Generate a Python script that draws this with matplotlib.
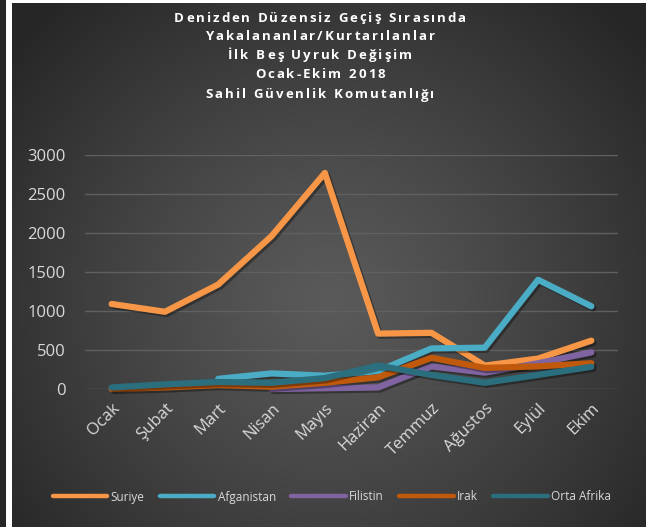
import numpy as np
import matplotlib
matplotlib.use("Agg")
import matplotlib.pyplot as plt
import matplotlib.patheffects as pe
from matplotlib.font_manager import FontProperties

months = ["Ocak", "Şubat", "Mart", "Nisan", "Mayıs", "Haziran", "Temmuz", "Ağustos", "Eylül", "Ekim"]
suriye = [1090, 990, 1340, 1960, 2770, 710, 720, 300, 390, 620]
afganistan = [np.nan, np.nan, 130, 200, 170, 230, 520, 530, 1400, 1060]
filistin = [np.nan, np.nan, np.nan, 0, 10, 20, 290, 210, 330, 470]
irak = [0, 20, 50, 30, 80, 150, 400, 270, 290, 330]
orta_afrika = [20, 60, 90, 80, 140, 300, 180, 80, 180, 285]
series = [("Suriye", suriye, "#F79646"),
          ("Afganistan", afganistan, "#4BACC6"),
          ("Filistin", filistin, "#8064A2"),
          ("Irak", irak, "#C0590C"),
          ("Orta Afrika", orta_afrika, "#2B6E7E")]
yticks = [0, 500, 1000, 1500, 2000, 2500, 3000]
title_lines = ["Denizden Düzensiz Geçiş Sırasında",
               "Yakalananlar/Kurtarılanlar",
               "İlk Beş Uyruk Değişim",
               "Ocak-Ekim 2018",
               "Sahil Güvenlik Komutanlığı"]

W, H = 657, 527
fig = plt.figure(figsize=(W / 100, H / 100), dpi=100)
fig.patch.set_facecolor("white")

# left dark strip
strip = fig.add_axes([0, 0, 6 / W, 1])
strip.set_facecolor("#262626")
strip.set_xticks([]); strip.set_yticks([])
for s in strip.spines.values():
    s.set_visible(False)

# gradient background
bg = fig.add_axes([12 / W, 0, (646 - 12) / W, (H - 3) / H])
yy, xx = np.mgrid[0:300, 0:400]
cx, cy = 200, 170
d = np.sqrt(((xx - cx) / 260.0) ** 2 + ((yy - cy) / 230.0) ** 2)
d = np.clip(d, 0, 1)
c0, c1 = 0x5a / 255, 0x26 / 255
img = c0 + (c1 - c0) * d ** 1.2
bg.imshow(np.dstack([img, img, img]), aspect="auto", extent=[0, 1, 0, 1], origin="upper")
bg.set_xlim(0, 1); bg.set_ylim(0, 1)
bg.axis("off")

ax = fig.add_axes([85 / W, (H - 389) / H, 533 / W, (389 - 155) / H])
ax.patch.set_alpha(0)
x = np.arange(len(months))
for name, vals, col in series:
    ax.plot(x, vals, color=col, lw=4.5, solid_capstyle="round", solid_joinstyle="round",
            label=name, clip_on=False,
            path_effects=[pe.SimpleLineShadow(offset=(1.5, -1.5), shadow_color="black", alpha=0.35),
                          pe.Normal()])
ax.set_xlim(-0.5, len(months) - 0.5)
ax.set_ylim(0, 3000)
ax.set_yticks(yticks)
ax.set_yticklabels([str(v) for v in yticks], fontsize=12, color="#d9d9d9", family="Open Sans")
ax.set_xticks(x)
ax.set_xticklabels(months, rotation=45, ha="right", rotation_mode="anchor", fontsize=12,
                   color="#d9d9d9", family="Open Sans")
ax.tick_params(length=0, pad=8)
ax.tick_params(axis="y", pad=14)
ax.grid(axis="y", color="#606060", lw=1)
ax.set_axisbelow(True)
for s in ax.spines.values():
    s.set_visible(False)

leg = fig.legend(loc="center", bbox_to_anchor=(332 / W, (H - 497) / H), ncol=5, frameon=False,
                 handlelength=4.6, columnspacing=1.3, handletextpad=0.3,
                 prop={"family": "Open Sans", "size": 8.5})
for t in leg.get_texts():
    t.set_color("#d9d9d9")
for l in leg.get_lines():
    l.set_linewidth(3.2)
    l.set_path_effects([])

# title with letter spacing
renderer = fig.canvas.get_renderer()
prop = FontProperties(family="Open Sans", weight="bold", size=9.5)
track = 2.0
ys = [18, 37, 56, 75, 95]
for line, yp in zip(title_lines, ys):
    widths = []
    for ch in line:
        if ch == " ":
            w1, _, _ = renderer.get_text_width_height_descent("a a", prop, ismath=False)
            w2, _, _ = renderer.get_text_width_height_descent("aa", prop, ismath=False)
            widths.append(w1 - w2)
        else:
            w, _, _ = renderer.get_text_width_height_descent(ch, prop, ismath=False)
            widths.append(w)
    total = sum(widths) + track * (len(line) - 1)
    xp = 320 - total / 2
    for ch, w in zip(line, widths):
        if ch != " ":
            fig.text(xp / W, 1 - yp / H, ch, ha="left", va="center", color="white",
                     fontproperties=prop)
        xp += w + track

fig.savefig("out.png", dpi=100, facecolor="white")
